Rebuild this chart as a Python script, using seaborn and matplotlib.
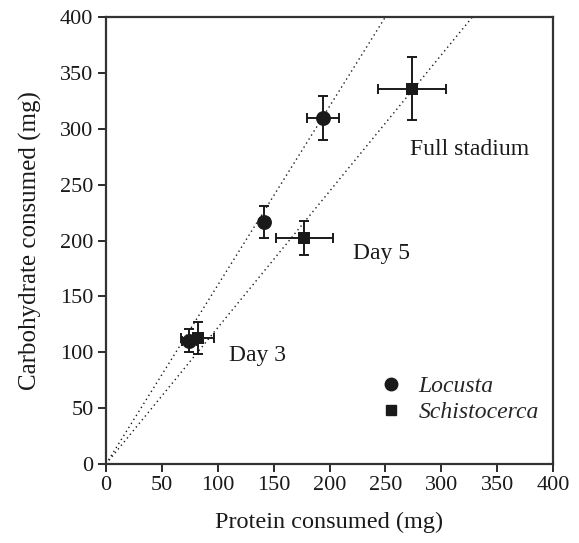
import matplotlib
matplotlib.use("Agg")
import matplotlib.pyplot as plt
from matplotlib.lines import Line2D
import seaborn as sns
import numpy as np
import pandas as pd

# ---- data ----
stages = ["Day 3", "Day 5", "Full stadium"]
locusta_protein = [74.6, 141.7, 194.2]
locusta_carb = [110.5, 216.5, 310.0]
locusta_protein_err = [7.0, 4.0, 14.0]
locusta_carb_err = [10.0, 14.6, 19.7]

schisto_protein = [82.0, 177.5, 273.8]
schisto_carb = [113.0, 202.0, 335.6]
schisto_protein_err = [14.5, 25.8, 30.7]
schisto_carb_err = [14.5, 15.2, 28.2]

line_slopes = [1.60, 1.22]  # Locusta, Schistocerca fitted lines through origin

label_positions_x = [110, 221, 272]
label_positions_y = [97, 188, 281]

x_ticks = [0, 50, 100, 150, 200, 250, 300, 350, 400]
y_ticks = [0, 50, 100, 150, 200, 250, 300, 350, 400]

df = pd.DataFrame({
    "protein": locusta_protein + schisto_protein,
    "carb": locusta_carb + schisto_carb,
    "species": ["Locusta"] * 3 + ["Schistocerca"] * 3,
})

sns.set_style("ticks")
plt.rcParams["font.family"] = ["Liberation Serif", "DejaVu Serif"]

fig = plt.figure(figsize=(5.79, 5.43), dpi=100)
ax = fig.add_axes([106 / 579, 79 / 543, 447 / 579, 447 / 543])

ink = "#1a1a1a"

# dotted lines through origin
xs = np.linspace(0, 400, 200)
for sl in line_slopes:
    ax.plot(xs, sl * xs, linestyle=(0, (1, 2.4)), color=ink, linewidth=1.0, zorder=1)

# error bars
ax.errorbar(locusta_protein, locusta_carb, xerr=locusta_protein_err, yerr=locusta_carb_err,
            fmt="none", ecolor=ink, elinewidth=1.4, capsize=3.8, capthick=1.4, zorder=2)
ax.errorbar(schisto_protein, schisto_carb, xerr=schisto_protein_err, yerr=schisto_carb_err,
            fmt="none", ecolor=ink, elinewidth=1.4, capsize=3.8, capthick=1.4, zorder=2)

# points
sns.scatterplot(data=df[df.species == "Locusta"], x="protein", y="carb", marker="o",
                s=115, color=ink, edgecolor=ink, linewidth=0, ax=ax, zorder=3, legend=False)
sns.scatterplot(data=df[df.species == "Schistocerca"], x="protein", y="carb", marker="s",
                s=80, color=ink, edgecolor=ink, linewidth=0, ax=ax, zorder=3, legend=False)

# stage labels
for lab, lx, ly in zip(stages, label_positions_x, label_positions_y):
    ax.text(lx, ly, lab, fontsize=17, va="center", ha="left", color=ink)

ax.set_xlim(0, 400)
ax.set_ylim(0, 400)
ax.set_xticks(x_ticks)
ax.set_yticks(y_ticks)
ax.tick_params(axis="both", direction="out", length=6, width=1.3, labelsize=16,
               colors=ink, pad=3)
for sp in ax.spines.values():
    sp.set_visible(True)
    sp.set_linewidth(1.6)
    sp.set_color("#333333")

ax.set_xlabel("Protein consumed (mg)", fontsize=17.5, color=ink, labelpad=12)
ax.set_ylabel("Carbohydrate consumed (mg)", fontsize=18, color=ink, labelpad=13)

handles = [
    Line2D([0], [0], marker="o", linestyle="none", color=ink, markersize=9),
    Line2D([0], [0], marker="s", linestyle="none", color=ink, markersize=7),
]
ax.legend(handles, ["Locusta", "Schistocerca"], loc="upper left",
          bbox_to_anchor=(0.57, 0.235), frameon=False,
          prop={"family": "Liberation Serif", "style": "italic", "size": 17},
          handletextpad=0.55, labelspacing=0.2, handlelength=1.2, borderpad=0.2)

fig.savefig("out.png", dpi=100)
